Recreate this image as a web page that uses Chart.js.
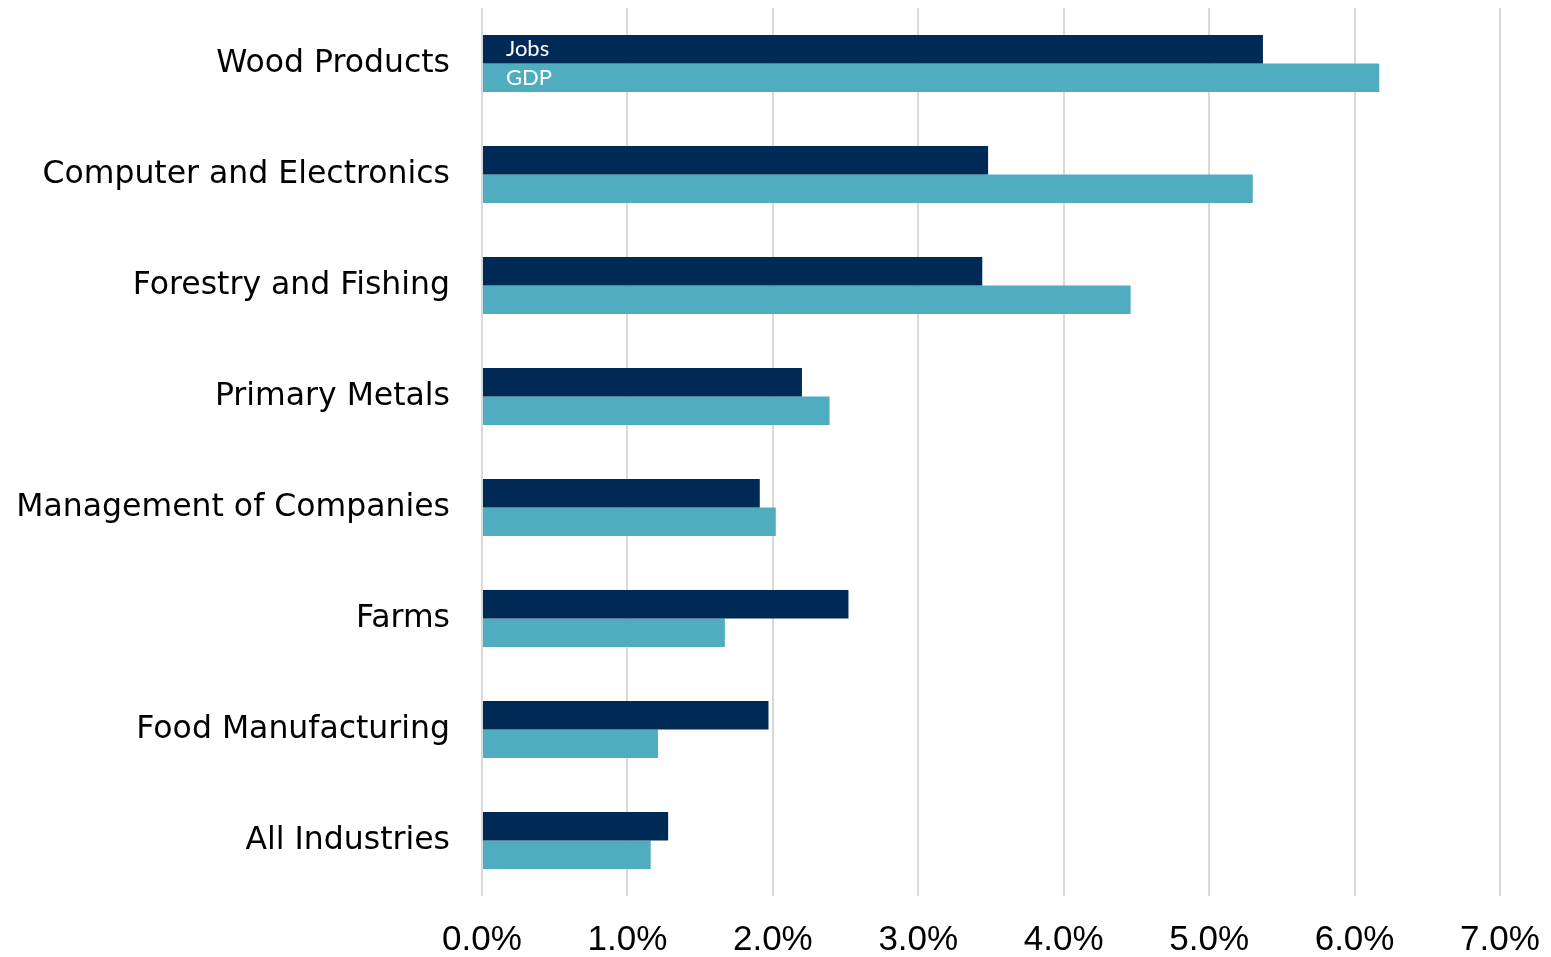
<!DOCTYPE html>
<html>
<head>
<meta charset="utf-8">
<script src="https://cdn.jsdelivr.net/npm/chart.js@4.4.1/dist/chart.umd.min.js"></script>
<style>
  html, body { margin: 0; padding: 0; background: #fff; }
  #wrap { width: 1551px; height: 957px; }
</style>
</head>
<body>
<div id="wrap"><canvas id="growthChart"></canvas></div>
<script>
// Categories and series
const industries = ['Wood Products', 'Computer and Electronics', 'Forestry and Fishing', 'Primary Metals',
    'Management of Companies', 'Farms', 'Food Manufacturing', 'All Industries'];
const jobsGrowth = [5.37, 3.48, 3.44, 2.20, 1.91, 2.52, 1.97, 1.28];
const gdpGrowth = [6.17, 5.30, 4.46, 2.39, 2.02, 1.67, 1.21, 1.16];
const xTicks = [0, 1, 2, 3, 4, 5, 6, 7];

// Labels drawn inside the first pair of bars
const inBarLabels = {
    id: 'inBarLabels',
    afterDatasetsDraw(chart) {
        const ctx = chart.ctx;
        const xs = chart.scales.x;
        ctx.save();
        ctx.fillStyle = '#ffffff';
        ctx.font = '22px "Lato", "Open Sans", sans-serif';
        ctx.textAlign = 'left';
        ctx.textBaseline = 'middle';
        chart.data.datasets.forEach((ds, i) => {
            const bar = chart.getDatasetMeta(i).data[0];
            ctx.fillText(ds.label, xs.left + 24, bar.y);
        });
        ctx.restore();
    }
};

const ctx = document.getElementById('growthChart').getContext('2d');
new Chart(ctx, {
    type: 'bar',
    data: {
        labels: industries,
        datasets: [{
            label: 'Jobs',
            data: jobsGrowth,
            backgroundColor: '#002A56',
            categoryPercentage: 0.515,
            barPercentage: 1
        }, {
            label: 'GDP',
            data: gdpGrowth,
            backgroundColor: '#4FADBF',
            categoryPercentage: 0.515,
            barPercentage: 1
        }]
    },
    options: {
        indexAxis: 'y',
        responsive: true,
        maintainAspectRatio: false,
        animation: false,
        layout: { padding: { left: 0, right: 51, top: 8, bottom: 0 } },
        plugins: {
            legend: { display: false },
            tooltip: { enabled: false }
        },
        scales: {
            x: {
                min: 0,
                max: 7,
                afterBuildTicks: (axis) => { axis.ticks = xTicks.map(v => ({ value: v })); },
                afterFit: (axis) => {
                    axis.height = 61;
                    axis.paddingLeft = 0;
                    axis.paddingRight = 0;
                },
                ticks: {
                    color: '#000',
                    padding: 23,
                    font: { family: '"Liberation Sans", Arial, sans-serif', size: 35 },
                    callback: (v) => Number(v).toFixed(1) + '%'
                },
                grid: { color: '#D9D9D9', lineWidth: 2, drawTicks: false },
                border: { display: false }
            },
            y: {
                afterFit: (axis) => {
                    axis.width = 482;
                    axis.paddingTop = 0;
                    axis.paddingBottom = 0;
                },
                ticks: {
                    color: '#000',
                    padding: 24,
                    font: { family: '"DejaVu Sans", sans-serif', size: 31.5 }
                },
                grid: { display: false },
                border: { display: false }
            }
        }
    },
    plugins: [inBarLabels]
});
</script>
</body>
</html>
